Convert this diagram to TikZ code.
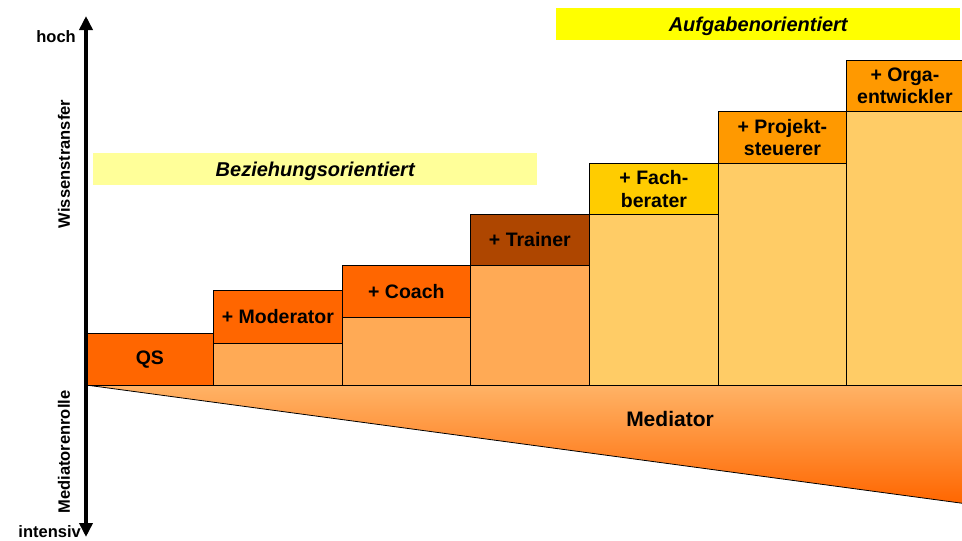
\documentclass[tikz,border=0pt]{standalone}
\usepackage{fontspec}
\setmainfont{Liberation Sans}
\usetikzlibrary{arrows.meta}
\definecolor{ordark}{HTML}{FF6600}
\definecolor{orlight}{HTML}{FFAA55}
\definecolor{trainerc}{HTML}{AE4600}
\definecolor{fachc}{HTML}{FFCC00}
\definecolor{projc}{HTML}{FF9900}
\definecolor{palec}{HTML}{FFCC66}
\definecolor{aufgc}{HTML}{FFFF00}
\definecolor{bezc}{HTML}{FFFF99}
\definecolor{tritop}{HTML}{FFB366}
\begin{document}
\begin{tikzpicture}[x=1pt,y=-1pt,
  lab/.style={draw=black, line width=0.8pt, inner sep=0pt, anchor=north west, align=center,
    font=\fontsize{19.5}{22.5}\selectfont\bfseries},
  body/.style={draw=black, line width=0.8pt, inner sep=0pt, anchor=north west},
  band/.style={inner sep=0pt, anchor=north west, text height=16pt, text depth=2pt,
    font=\fontsize{20}{22}\selectfont\bfseries\itshape},
  axislab/.style={inner sep=0pt, font=\fontsize{16.5}{18}\selectfont\bfseries}]
\useasboundingbox (0,0) rectangle (962,541);
\fill[white] (0,0) rectangle (962,541);

% bands
\node[band, fill=aufgc, minimum width=404pt, minimum height=32pt] (aufg) at (556,8) {Aufgabenorientiert};
\node[band, fill=bezc, minimum width=444pt, minimum height=32pt] (bez) at (93,153) {Beziehungsorientiert};

% mediator wedge
\coordinate (o) at (86,385);
\coordinate (tr) at (964,385);
\coordinate (br) at (964,503.5);
\shade[top color=tritop, bottom color=ordark] (o) -- (tr) -- (br) -- cycle;
\draw[line width=0.8pt] (o) -- (br);
\node[inner sep=0pt, font=\fontsize{21}{24}\selectfont\bfseries] (med) at (670,419) {Mediator};

% columns
\node[lab, fill=ordark, minimum width=127pt, minimum height=52pt] (qs) at (86,333) {QS};

\node[lab, fill=ordark, minimum width=129pt, minimum height=53pt] (modl) at (213,290) {+ Moderator};
\node[body, fill=orlight, minimum width=129pt, minimum height=42pt] (modb) at (213,343) {};

\node[lab, fill=ordark, minimum width=128pt, minimum height=52pt] (coal) at (342,265) {+ Coach};
\node[body, fill=orlight, minimum width=128pt, minimum height=68pt] (coab) at (342,317) {};

\node[lab, fill=trainerc, minimum width=119pt, minimum height=51pt] (trl) at (470,214) {+ Trainer};
\node[body, fill=orlight, minimum width=119pt, minimum height=120pt] (trb) at (470,265) {};

\node[lab, fill=fachc, minimum width=129pt, minimum height=51pt] (fal) at (589,163) {+ Fach-\\berater};
\node[body, fill=palec, minimum width=129pt, minimum height=171pt] (fab) at (589,214) {};

\node[lab, fill=projc, minimum width=128pt, minimum height=52pt] (prl) at (718,111) {+ Projekt-\\steuerer};
\node[body, fill=palec, minimum width=128pt, minimum height=222pt] (prb) at (718,163) {};

\node[lab, fill=projc, minimum width=117pt, minimum height=51pt] (orl) at (846,60) {+ Orga-\\entwickler};
\node[body, fill=palec, minimum width=117pt, minimum height=274pt] (orb) at (846,111) {};

% axis
\coordinate (atop) at (86,16);
\coordinate (abot) at (86,537);
\draw[line width=4pt, {Triangle[length=14pt,width=13pt]}-{Triangle[length=14pt,width=13pt]}] (atop) -- (abot);

\node[axislab, anchor=east] (hoch) at (76,37) {hoch};
\node[axislab, anchor=east] (intens) at (81,532) {intensiv};
\node[axislab, rotate=90] (wiss) at (64,164) {Wissenstransfer};
\node[axislab, rotate=90] (medr) at (64,452) {Mediatorenrolle};
\end{tikzpicture}
\end{document}
